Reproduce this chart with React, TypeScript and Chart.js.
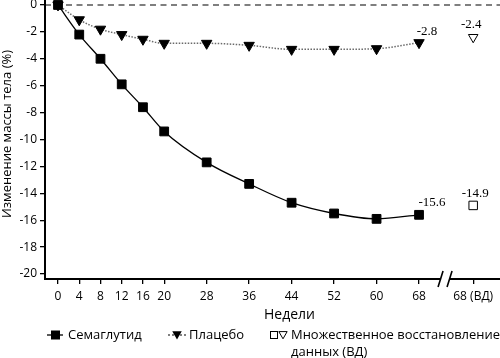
import { useEffect, useRef } from 'react';
import { Chart, registerables } from 'chart.js';

Chart.register(...registerables);

const weeks = [0, 4, 8, 12, 16, 20, 28, 36, 44, 52, 60, 68];
const semaglutide = [0, -2.2, -4.0, -5.9, -7.6, -9.4, -11.7, -13.3, -14.7, -15.5, -15.9, -15.6];
const placebo = [0, -1.1, -1.8, -2.2, -2.55, -2.85, -2.85, -3.0, -3.3, -3.3, -3.25, -2.8];
const imputedWeek = 78.2;
const imputedTickLabel = '68 (ВД)';
const semaglutideImputed = -14.9;
const placeboImputed = -2.4;
const yTicks = [0, -2, -4, -6, -8, -10, -12, -14, -16, -18, -20];
const xTicks = [...weeks, imputedWeek];
const breakWeek = 72.9;

const yTitle = 'Изменение массы тела (%)';
const xTitle = 'Недели';
const legendSema = 'Семаглутид';
const legendPlacebo = 'Плацебо';
const legendImputed1 = 'Множественное восстановление';
const legendImputed2 = 'данных (ВД)';

const SANS = '"Open Sans", "DejaVu Sans", sans-serif';
const SERIF = '"Liberation Serif", "DejaVu Serif", serif';

function drawTri(ctx: CanvasRenderingContext2D, x: number, y: number, r: number, fill: boolean) {
  ctx.beginPath();
  ctx.moveTo(x - r * 0.866, y - r * 0.5);
  ctx.lineTo(x + r * 0.866, y - r * 0.5);
  ctx.lineTo(x, y + r);
  ctx.closePath();
  if (fill) {
    ctx.fillStyle = '#000';
    ctx.fill();
  } else {
    ctx.strokeStyle = '#000';
    ctx.lineWidth = 1;
    ctx.stroke();
  }
}

const decorPlugin = {
  id: 'decor',
  beforeDatasetsDraw(chart: any) {
    const { ctx, chartArea, scales } = chart;
    const y0 = scales.y.getPixelForValue(0);
    ctx.save();
    ctx.strokeStyle = '#000';
    ctx.lineWidth = 1.2;
    ctx.setLineDash([6, 4.5]);
    ctx.beginPath();
    ctx.moveTo(chartArea.left, y0);
    ctx.lineTo(chartArea.right, y0);
    ctx.stroke();
    ctx.restore();
  },
  afterDraw(chart: any) {
    const { ctx, chartArea, scales } = chart;
    ctx.save();
    // axis break
    const bx = scales.x.getPixelForValue(breakWeek);
    const by = chartArea.bottom;
    ctx.fillStyle = '#fff';
    ctx.fillRect(bx - 4, by - 3, 8, 6);
    ctx.strokeStyle = '#000';
    ctx.lineWidth = 1.6;
    ctx.beginPath();
    ctx.moveTo(bx - 7, by + 8);
    ctx.lineTo(bx - 2, by - 8);
    ctx.moveTo(bx + 2, by + 8);
    ctx.lineTo(bx + 7, by - 8);
    ctx.stroke();

    // value labels
    ctx.fillStyle = '#000';
    ctx.font = '13px ' + SERIF;
    ctx.textAlign = 'center';
    ctx.textBaseline = 'middle';
    const lbl = (xv: number, yv: number, dx: number, dy: number) => {
      const px = scales.x.getPixelForValue(xv);
      const py = scales.y.getPixelForValue(yv);
      ctx.fillText(yv.toFixed(1), px + dx, py + dy);
    };
    lbl(weeks[weeks.length - 1], placebo[placebo.length - 1], 8, -11);
    lbl(imputedWeek, placeboImputed, -2, -13);
    lbl(weeks[weeks.length - 1], semaglutide[semaglutide.length - 1], 13, -12);
    lbl(imputedWeek, semaglutideImputed, 2, -12);

    // y title
    ctx.save();
    ctx.translate(7, 134);
    ctx.rotate(-Math.PI / 2);
    ctx.font = '13px ' + SANS;
    ctx.textAlign = 'center';
    ctx.textBaseline = 'middle';
    ctx.fillText(yTitle, 0, 0);
    ctx.restore();

    // x title
    ctx.font = '14px ' + SANS;
    ctx.textAlign = 'left';
    ctx.textBaseline = 'middle';
    ctx.fillText(xTitle, 264, 315);

    // legend
    ctx.font = '13px ' + SANS;
    const ly = 335;
    ctx.strokeStyle = '#000';
    ctx.lineWidth = 1.3;
    ctx.setLineDash([]);
    ctx.beginPath();
    ctx.moveTo(47, ly);
    ctx.lineTo(63, ly);
    ctx.stroke();
    ctx.fillStyle = '#000';
    ctx.fillRect(51, ly - 4.5, 9, 9);
    ctx.fillText(legendSema, 68, ly);

    ctx.strokeStyle = '#555';
    ctx.setLineDash([2, 2]);
    ctx.beginPath();
    ctx.moveTo(168, ly);
    ctx.lineTo(186, ly);
    ctx.stroke();
    ctx.setLineDash([]);
    drawTri(ctx, 177, ly - 1, 5.5, true);
    ctx.fillStyle = '#000';
    ctx.fillText(legendPlacebo, 189, ly);

    ctx.strokeStyle = '#000';
    ctx.lineWidth = 1;
    ctx.strokeRect(270.5, ly - 3.5, 7, 7);
    drawTri(ctx, 283, ly - 1, 4.8, false);
    ctx.fillStyle = '#000';
    ctx.fillText(legendImputed1, 291, ly, 209);
    ctx.fillText(legendImputed2, 291, ly + 17);
    ctx.restore();
  },
};

export default function App() {
  const ref = useRef<HTMLCanvasElement | null>(null);
  useEffect(() => {
    document.body.style.margin = '0';
    const canvas = ref.current;
    if (!canvas) return;
    const tickFont = { family: SANS, size: 12 };
    const chart = new Chart(canvas, {
      type: 'line',
      data: {
        datasets: [
          {
            label: legendSema,
            data: weeks.map((w, i) => ({ x: w, y: semaglutide[i] })),
            borderColor: '#000',
            borderWidth: 1.3,
            backgroundColor: '#000',
            pointBackgroundColor: '#000',
            pointBorderColor: '#000',
            pointBorderWidth: 1,
            pointStyle: 'rect',
            pointRadius: 6.2,
            cubicInterpolationMode: 'monotone',
            clip: false as any,
          },
          {
            label: legendPlacebo,
            data: weeks.map((w, i) => ({ x: w, y: placebo[i] })),
            borderColor: '#6a6a6a',
            borderWidth: 1.5,
            borderDash: [1.5, 1.5],
            backgroundColor: '#000',
            pointBackgroundColor: '#000',
            pointBorderColor: '#000',
            pointBorderWidth: 1,
            pointStyle: 'triangle',
            pointRotation: 180,
            pointRadius: 6,
            cubicInterpolationMode: 'monotone',
            clip: false as any,
          },
          {
            label: 'ВД семаглутид',
            data: [{ x: imputedWeek, y: semaglutideImputed }],
            showLine: false,
            pointStyle: 'rect',
            pointRadius: 6,
            pointBackgroundColor: '#fff',
            pointBorderColor: '#000',
            pointBorderWidth: 1,
            clip: false as any,
          },
          {
            label: 'ВД плацебо',
            data: [{ x: imputedWeek, y: placeboImputed }],
            showLine: false,
            pointStyle: 'triangle',
            pointRotation: 180,
            pointRadius: 5.5,
            pointBackgroundColor: '#fff',
            pointBorderColor: '#000',
            pointBorderWidth: 1,
            clip: false as any,
          },
        ],
      },
      options: {
        responsive: false,
        animation: false,
        layout: { autoPadding: false, padding: { left: 0, right: 0, top: 0, bottom: 49 } },
        plugins: {
          legend: { display: false },
          tooltip: { enabled: false },
        },
        scales: {
          x: {
            type: 'linear',
            min: -2.45,
            max: 83.25,
            afterBuildTicks: (s: any) => {
              s.ticks = xTicks.map((v) => ({ value: v }));
            },
            afterFit: (s: any) => {
              s.height = 30;
              s.paddingLeft = 0;
              s.paddingRight = 0;
            },
            ticks: {
              autoSkip: false,
              maxRotation: 0,
              color: '#000',
              font: tickFont,
              padding: 5,
              callback: (v: any) => (v === imputedWeek ? imputedTickLabel : String(v)),
            },
            grid: { drawOnChartArea: false, color: '#000', tickLength: 5, lineWidth: 1.3 },
            border: { display: true, color: '#000', width: 2 },
          },
          y: {
            type: 'linear',
            min: -20.37,
            max: 0.37,
            afterBuildTicks: (s: any) => {
              s.ticks = yTicks.map((v) => ({ value: v }));
            },
            afterFit: (s: any) => {
              s.width = 45;
              s.paddingTop = 0;
              s.paddingBottom = 0;
            },
            ticks: {
              color: '#000',
              font: tickFont,
              padding: 3,
              callback: (v: any) => String(v),
            },
            grid: { drawOnChartArea: false, color: '#000', tickLength: 5, lineWidth: 1.3 },
            border: { display: true, color: '#000', width: 2 },
          },
        },
      },
      plugins: [decorPlugin],
    });
    return () => chart.destroy();
  }, []);
  return (
    <div style={{ position: 'fixed', left: 0, top: 0, width: 500, height: 358, background: '#fff' }}>
      <canvas ref={ref} width={500} height={358} />
    </div>
  );
}
